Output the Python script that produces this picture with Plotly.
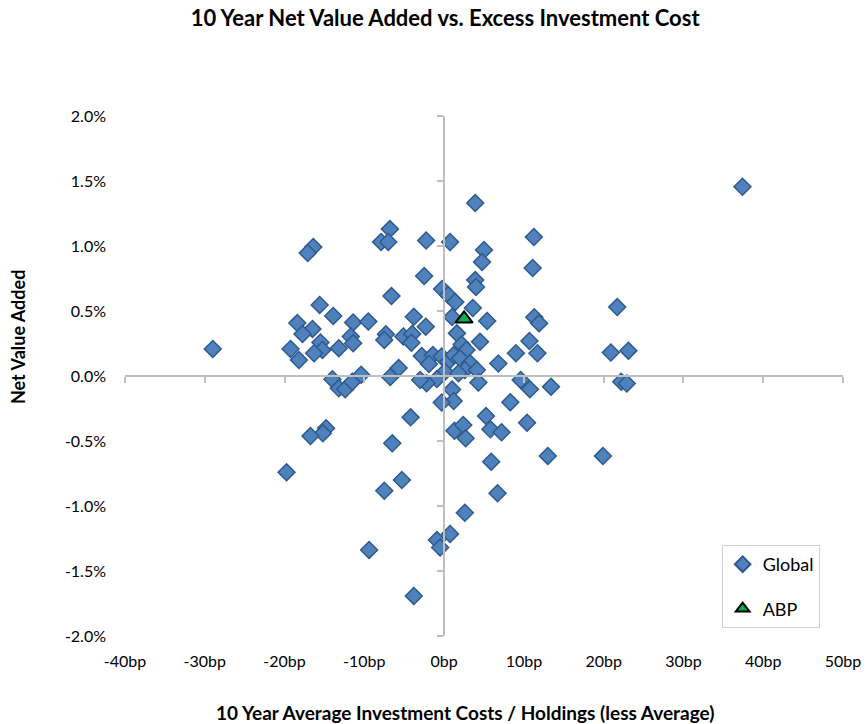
import plotly.graph_objects as go

# Global peer funds: x = excess cost (bp), y = net value added (%)
global_cost_bp = [
    -6.8, -7.9, -7.0, -2.25, 0.75, 3.9, 11.25, -16.4, -17.1, 5.0,
    4.75, 11.1, -2.5, -6.6, -0.25, 0.5, 1.4, 3.9, 4.0, 3.6,
    -15.6, -13.9, -18.4, -16.5, -17.75, -11.4, -9.5, -3.8, -2.3, -7.3,
    -7.5, -5.1, -4.0, -4.1, -11.7, -11.4, -15.5, -19.25, -13.2, -15.25,
    -16.3, -18.2, -29.0, 1.0, 5.4, 11.3, 11.9, 1.6, 4.5, 2.2,
    2.8, 10.7, 9.0, 11.7, 21.7, 20.9, 23.1, 37.4, -2.8, -1.4,
    -0.3, 0.5, -1.9, 1.2, 2.0, 3.25, 6.8, 2.6, 0.1, -0.9,
    1.8, 4.1, 4.3, -2.2, -3.0, 1.0, 1.2, -0.3, -5.7, -6.75,
    -14.0, -13.2, -12.4, -11.5, -10.4, 9.6, 10.75, 13.4, 22.2, 22.9,
    8.3, -4.2, 5.25, 10.4, 1.3, 2.4, 2.7, 5.8, 7.2, -14.8,
    -15.2, -16.75, -6.5, 5.9, 13.0, 19.9, -19.75, -5.3, -7.5, 6.7,
    2.6, 0.75, -0.9, -0.5, -9.4, -3.8,
]
global_nva_pct = [
    1.13, 1.031, 1.031, 1.042, 1.031, 1.331, 1.069, 0.992, 0.946, 0.969,
    0.877, 0.831, 0.769, 0.615, 0.669, 0.623, 0.569, 0.738, 0.685, 0.523,
    0.546, 0.462, 0.408, 0.362, 0.323, 0.412, 0.419, 0.456, 0.379, 0.321,
    0.277, 0.304, 0.323, 0.256, 0.304, 0.252, 0.258, 0.208, 0.214, 0.2,
    0.175, 0.123, 0.208, 0.454, 0.423, 0.452, 0.405, 0.328, 0.264, 0.242,
    0.2, 0.269, 0.175, 0.175, 0.531, 0.181, 0.195, 1.456, 0.154, 0.162,
    0.15, 0.11, 0.092, 0.162, 0.136, 0.098, 0.096, 0.046, 0.033, -0.023,
    0.021, 0.046, -0.05, -0.056, -0.031, -0.104, -0.192, -0.204, 0.062, -0.008,
    -0.025, -0.095, -0.102, -0.044, 0.01, -0.031, -0.102, -0.082, -0.044, -0.058,
    -0.202, -0.318, -0.308, -0.359, -0.421, -0.377, -0.479, -0.41, -0.433, -0.402,
    -0.441, -0.462, -0.518, -0.659, -0.615, -0.615, -0.741, -0.8, -0.882, -0.902,
    -1.052, -1.215, -1.262, -1.319, -1.338, -1.692,
]

abp_cost_bp = [2.5]
abp_nva_pct = [0.44]

x_ticks = [-40, -30, -20, -10, 0, 10, 20, 30, 40, 50]
y_ticks = [-2.0, -1.5, -1.0, -0.5, 0.0, 0.5, 1.0, 1.5, 2.0]

FONT = "Lato"
AXIS_GRAY = "#BFBFBF"

fig = go.Figure()

fig.add_trace(go.Scatter(
    x=global_cost_bp, y=global_nva_pct, mode="markers", name="Global",
    legendgroup="g1",
    marker=dict(symbol="diamond", size=13, color="#4F81BD",
                line=dict(color="#2E5A8C", width=1.5)),
))
fig.add_trace(go.Scatter(
    x=abp_cost_bp, y=abp_nva_pct, mode="markers", name="ABP",
    legendgroup="g2",
    marker=dict(symbol="triangle-up", size=15, color="#00B050",
                line=dict(color="#000000", width=2)),
))
# dummy trace to bring up the crossing axes through the origin
fig.add_trace(go.Scatter(x=[None], y=[None], xaxis="x2", yaxis="y2",
                         showlegend=False, hoverinfo="skip"))

fig.update_layout(
    width=866, height=724,
    paper_bgcolor="white", plot_bgcolor="white",
    margin=dict(l=125, r=23, t=116, b=88, autoexpand=False),
    font=dict(family=FONT, size=16, color="#000000"),
    title=dict(text="<b>10 Year Net Value Added vs. Excess Investment Cost</b>",
               x=0.514, xanchor="center", y=0.975, yanchor="middle",
               font=dict(family=FONT, size=22)),
    xaxis=dict(range=[-40, 50], tickvals=x_ticks,
               ticktext=[f"{v}bp" for v in x_ticks], automargin=False,
               showgrid=False, zeroline=False, showline=False, ticks="",
               ticklabelstandoff=14, tickfont=dict(size=16)),
    yaxis=dict(range=[-2, 2], tickvals=y_ticks,
               ticktext=[f"{v:.1f}%" for v in y_ticks], automargin=False,
               showgrid=False, zeroline=False, showline=False, ticks="",
               ticklabelstandoff=18, tickfont=dict(size=16)),
    xaxis2=dict(range=[-40, 50], overlaying="x", anchor="free", position=0.5,
                tickvals=x_ticks, showticklabels=False, showgrid=False,
                automargin=False,
                zeroline=False, showline=True, linecolor=AXIS_GRAY, linewidth=1.5,
                ticks="outside", ticklen=6, tickwidth=1.5, tickcolor=AXIS_GRAY),
    yaxis2=dict(range=[-2, 2], overlaying="y", anchor="free", position=40 / 90,
                tickvals=y_ticks, showticklabels=False, showgrid=False,
                automargin=False,
                zeroline=False, showline=True, linecolor=AXIS_GRAY, linewidth=1.5,
                ticks="outside", ticklen=6, tickwidth=1.5, tickcolor=AXIS_GRAY),
    legend=dict(x=0.831, xanchor="left", y=0.175, yanchor="top",
                bgcolor="white", bordercolor="#D0D0D0", borderwidth=1,
                font=dict(family=FONT, size=18), tracegroupgap=18,
                entrywidth=100, entrywidthmode="pixels",
                itemsizing="constant"),
    showlegend=True,
    annotations=[
        dict(text="<b>10 Year Average Investment Costs / Holdings (less Average)</b>",
             xref="paper", yref="paper", x=(465 - 125) / 718, y=-(712 - 636) / 520,
             xanchor="center", yanchor="middle", showarrow=False,
             font=dict(family=FONT, size=19)),
        dict(text="<b>Net Value Added</b>", textangle=-90,
             xref="paper", yref="paper", x=-(125 - 18) / 718, y=(636 - 337) / 520,
             xanchor="center", yanchor="middle", showarrow=False,
             font=dict(family=FONT, size=18)),
    ],
)

fig.write_html(
    "out.html",
    config={"displayModeBar": False},
    post_script="document.body.style.margin='0';document.body.style.padding='0';",
)
